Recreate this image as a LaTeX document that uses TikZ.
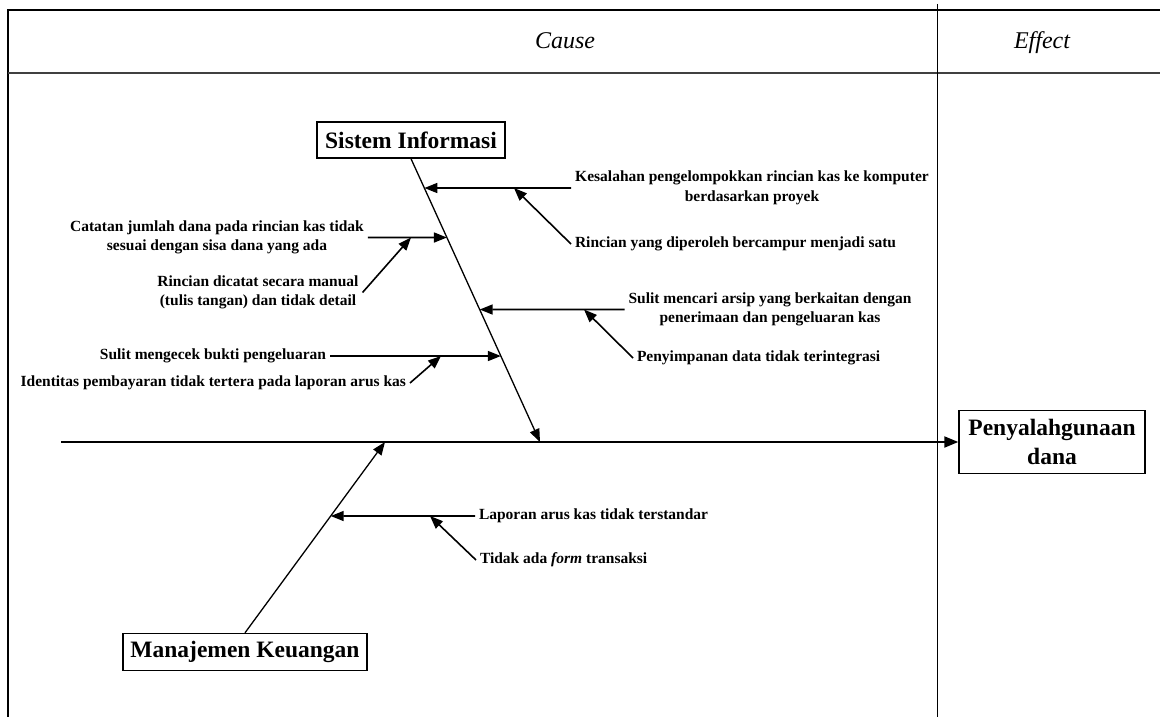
\documentclass[tikz,border=0pt]{standalone}
\usepackage{fontspec}
\setmainfont{Liberation Serif}
\usetikzlibrary{arrows.meta,calc}
\begin{document}
\begin{tikzpicture}[x=1pt,y=-1pt,
  frame/.style={line width=2.4pt},
  box/.style={draw,line width=1.4pt,inner sep=0pt,font=\fontsize{23.5}{29}\selectfont\bfseries,align=center},
  lbl/.style={inner sep=0pt,outer sep=4pt,font=\fontsize{15.5}{19.5}\selectfont\bfseries,align=center},
  bone/.style={line width=1.3pt,-{Triangle[length=13pt,width=10pt]}},
  rib/.style={line width=1.6pt,-{Triangle[length=13pt,width=10pt]}},
  spine/.style={line width=2pt,-{Triangle[length=14pt,width=11pt]}},
  head/.style={font=\fontsize{24}{28}\selectfont\itshape,anchor=base}
]
\useasboundingbox (0,0) rectangle (1160,717);
% frame
\draw[frame] (8,717) -- (8,10) -- (1160,10);
\draw[line width=2.6pt,black!75] (8,73) -- (1160,73);
\draw[line width=0.8pt] (937,4) -- (937,717);
\node[head] (cause) at (565,49) {Cause};
\node[head] (effect) at (1042,49) {Effect};
% boxes
\node[box,minimum width=188pt,minimum height=36pt] (si) at (411,140) {Sistem Informasi};
\node[box,minimum width=244pt,minimum height=37pt] (mk) at (245,652) {Manajemen Keuangan};
\node[box,minimum width=186pt,minimum height=63pt] (pd) at (1052,442) {Penyalahgunaan\\dana};
% spine and bones
\coordinate (tail) at (61,442);
\coordinate (siend) at (540,442);
\coordinate (mkend) at (385,442);
\draw[spine] (tail) -- (pd.west);
\draw[bone] (si.south) -- (siend);
\draw[bone] (mk.north) -- (mkend);
% labels
\node[lbl] (k1) at (752,188) {Kesalahan pengelompokkan rincian kas ke komputer\\berdasarkan proyek};
\node[lbl,anchor=west] (k2) at (571,244) {Rincian yang diperoleh bercampur menjadi satu};
\node[lbl] (c1) at (217,237.5) {Catatan jumlah dana pada rincian kas tidak\\sesuai dengan sisa dana yang ada};
\node[lbl] (c2) at (258,292.5) {Rincian dicatat secara manual\\(tulis tangan) dan tidak detail};
\node[lbl] (s1) at (770,309.5) {Sulit mencari arsip yang berkaitan dengan\\penerimaan dan pengeluaran kas};
\node[lbl,anchor=west] (p1) at (633,358) {Penyimpanan data tidak terintegrasi};
\node[lbl,anchor=east] (s2) at (330,356) {Sulit mengecek bukti pengeluaran};
\node[lbl,anchor=east] (i1) at (410,383) {Identitas pembayaran tidak tertera pada laporan arus kas};
\node[lbl,anchor=west] (l1) at (475,516) {Laporan arus kas tidak terstandar};
\node[lbl,anchor=west] (t1) at (476,560) {Tidak ada \textit{form} transaksi};
% rib tips
\coordinate (b1) at (intersection of si.south--siend and k1.west--k1.east);
\coordinate (b2) at (intersection of si.south--siend and c1.west--c1.east);
\coordinate (b3) at (intersection of si.south--siend and s1.west--s1.east);
\coordinate (b4) at (intersection of si.south--siend and s2.west--s2.east);
\coordinate (b5) at (intersection of mk.north--mkend and l1.west--l1.east);
\coordinate (m1) at (514,0 |- k1.west);
\coordinate (m2) at (411,0 |- c1.east);
\coordinate (m3) at (584,0 |- s1.west);
\coordinate (m4) at (441,0 |- s2.east);
\coordinate (m5) at (430,0 |- l1.west);
% ribs
\draw[rib] (k1.west) -- (b1);
\draw[rib] (c1.east) -- (b2);
\draw[rib] (s1.west) -- (b3);
\draw[rib] (s2.east) -- (b4);
\draw[rib] (l1.west) -- (b5);
% sub-ribs
\draw[rib] (k2.west) -- (m1);
\draw[rib] (c2.east) -- (m2);
\draw[rib] (p1.west) -- (m3);
\draw[rib] (i1.east) -- (m4);
\draw[rib] (t1.west) -- (m5);
\end{tikzpicture}
\end{document}
